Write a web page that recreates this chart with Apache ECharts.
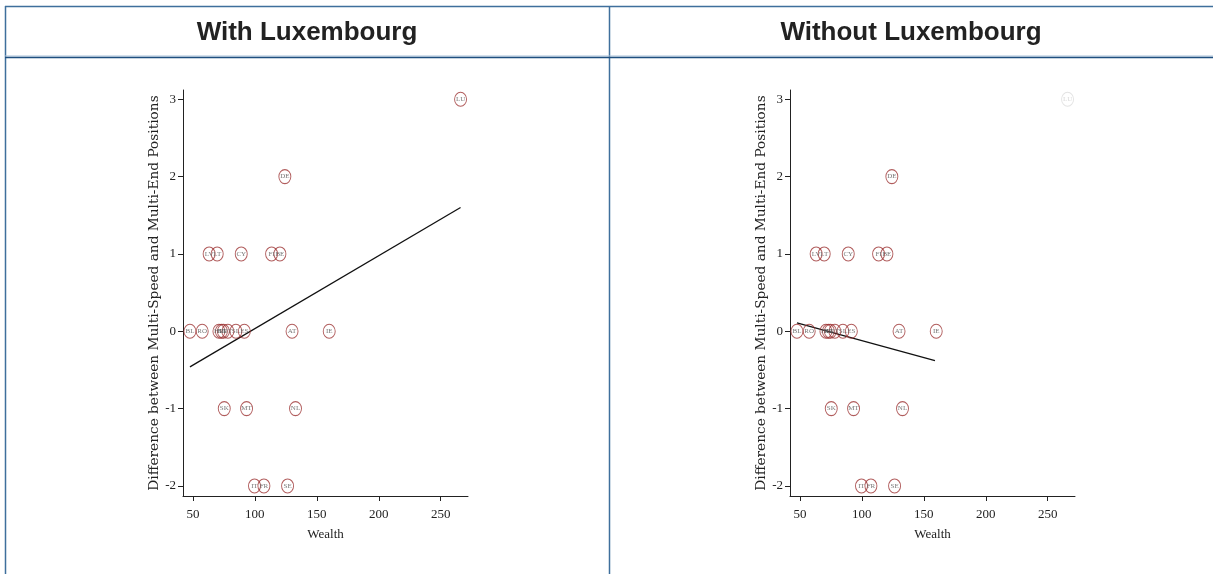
<!DOCTYPE html>
<html>
<head>
<meta charset="utf-8">
<script src="https://cdn.jsdelivr.net/npm/echarts@6/dist/echarts.min.js"></script>
<style>
  html, body { margin: 0; padding: 0; background: #fff; }
  #chart { width: 1213px; height: 574px; }
</style>
</head>
<body>
<div id="chart"></div>
<script>
// Country codes, wealth index and position difference
const codes  = ['BL', 'RO', 'LV', 'LT', 'HU', 'EL', 'PL', 'PT', 'SL', 'CY', 'ES', 'SK', 'MT', 'IT', 'FR', 'FI', 'BE', 'DE', 'SE', 'AT', 'NL', 'IE', 'LU'];
const wealth = [47.6, 57.5, 63.1, 69.6, 71, 73, 74.6, 78.2, 84.7, 89, 91.5, 75.3, 93.3, 99.7, 107.3, 113.5, 120.2, 124.2, 126.4, 130, 132.8, 160, 266];
const diff   = [0, 0, 1, 1, 0, 0, 0, 0, 0, 1, 0, -1, -1, -2, -2, 1, 1, 2, -2, 0, -1, 0, 3];

// Fitted lines (endpoints) for both samples
const fitWithX = [47.6, 266];
const fitWithY = [-0.46, 1.60];
const fitWithoutX = [47.6, 159];
const fitWithoutY = [0.11, -0.38];

// Tick labels
const xTicks = [50, 100, 150, 200, 250];
const yTicks = [-2, -1, 0, 1, 2, 3];

const panelTitles = ['With Luxembourg', 'Without Luxembourg'];
const xName = 'Wealth';
const yName = 'Difference between Multi-Speed and Multi-End Positions';

const serif = '"Liberation Serif", "DejaVu Serif", serif';
const ellipse = 'path://M0,-1A1,1 0 1,1 0,1A1,1 0 1,1 0,-1Z';

const allPts = codes.map((c, i) => ({ name: c, value: [wealth[i], diff[i]] }));
const noLuPts = allPts.filter(p => p.name !== 'LU');
const luPts = allPts.filter(p => p.name === 'LU');

function xAxis(idx) {
  return {
    gridIndex: idx, type: 'value', min: 42, max: 272,
    name: xName, nameLocation: 'middle', nameGap: 32,
    nameTextStyle: { fontFamily: serif, fontSize: 13, color: '#222' },
    axisLine: { show: true, onZero: false, lineStyle: { color: '#222', width: 1 } },
    axisTick: { show: true, length: 5, lineStyle: { color: '#222' }, customValues: xTicks },
    axisLabel: { fontFamily: serif, fontSize: 13, color: '#222', margin: 12, customValues: xTicks },
    splitLine: { show: false }
  };
}
function yAxis(idx) {
  return {
    gridIndex: idx, type: 'value', min: -2.13, max: 3.12,
    name: yName, nameLocation: 'middle', nameGap: 22,
    nameTextStyle: { fontFamily: '"DejaVu Serif", serif', fontSize: 13.7, color: '#222' },
    axisLine: { show: true, onZero: false, lineStyle: { color: '#222', width: 1 } },
    axisTick: { show: true, length: 5, lineStyle: { color: '#222' }, customValues: yTicks },
    axisLabel: { fontFamily: serif, fontSize: 13, color: '#222', margin: 7, customValues: yTicks },
    splitLine: { show: false }
  };
}

function markerSeries(idx, data, border, textColor) {
  return {
    type: 'scatter', xAxisIndex: idx, yAxisIndex: idx,
    data: data, symbol: ellipse, symbolSize: [12, 14],
    itemStyle: { color: 'rgba(255,255,255,0)', borderColor: border, borderWidth: 1 },
    label: { show: true, position: 'inside', formatter: p => p.name,
             fontFamily: serif, fontSize: 7, color: textColor },
    emphasis: { disabled: true }, z: 3
  };
}
function fitSeries(idx, xs, ys) {
  return {
    type: 'line', xAxisIndex: idx, yAxisIndex: idx,
    data: xs.map((x, i) => [x, ys[i]]), symbol: 'none',
    lineStyle: { color: '#111', width: 1.3 }, z: 2
  };
}

const border = '#3f6f9c';
const chart = echarts.init(document.getElementById('chart'), null, { renderer: 'canvas' });
chart.setOption({
  animation: false,
  backgroundColor: '#fff',
  grid: [
    { left: 183, top: 90, width: 285, height: 406 },
    { left: 790, top: 90, width: 285, height: 406 }
  ],
  xAxis: [xAxis(0), xAxis(1)],
  yAxis: [yAxis(0), yAxis(1)],
  series: [
    fitSeries(0, fitWithX, fitWithY),
    markerSeries(0, allPts, '#9e3434', '#555'),
    fitSeries(1, fitWithoutX, fitWithoutY),
    markerSeries(1, noLuPts, '#9e3434', '#555'),
    markerSeries(1, luPts, '#dcdcdc', '#d0d0d0')
  ],
  graphic: [
    { type: 'line', shape: { x1: 5, y1: 6.5, x2: 1213, y2: 6.5 }, style: { stroke: border, lineWidth: 1.5 } },
    { type: 'line', shape: { x1: 5.5, y1: 6, x2: 5.5, y2: 574 }, style: { stroke: border, lineWidth: 1.5 } },
    { type: 'line', shape: { x1: 609.5, y1: 6, x2: 609.5, y2: 574 }, style: { stroke: border, lineWidth: 1.5 } },
    { type: 'line', shape: { x1: 5, y1: 56, x2: 1213, y2: 56 }, style: { stroke: '#a9c1d9', lineWidth: 1 } },
    { type: 'line', shape: { x1: 5, y1: 57.5, x2: 1213, y2: 57.5 }, style: { stroke: '#1f4f7f', lineWidth: 1.5 } },
    { type: 'text', style: { x: 307, y: 33, text: panelTitles[0], textAlign: 'center', textVerticalAlign: 'middle',
      font: 'bold 26px "Liberation Sans", Arial, sans-serif', fill: '#222' } },
    { type: 'text', style: { x: 911, y: 33, text: panelTitles[1], textAlign: 'center', textVerticalAlign: 'middle',
      font: 'bold 26px "Liberation Sans", Arial, sans-serif', fill: '#222' } }
  ]
});
</script>
</body>
</html>
